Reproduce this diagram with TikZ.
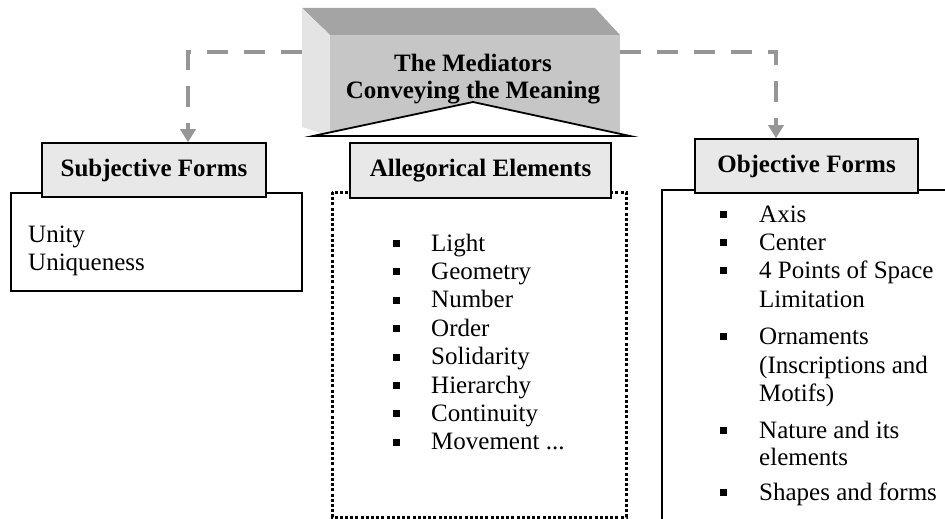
\documentclass[tikz,border=0pt]{standalone}
\usepackage{fontspec}
\setmainfont{Liberation Serif}
\usetikzlibrary{arrows.meta}
\definecolor{conngray}{HTML}{969696}
\definecolor{hdrfill}{HTML}{E8E8E8}
\definecolor{topface}{HTML}{A4A4A4}
\definecolor{frontface}{HTML}{C6C6C6}
\definecolor{sideface}{HTML}{E4E4E4}
\begin{document}
\begin{tikzpicture}[x=1pt,y=-1pt,
  every node/.style={font=\fontsize{25}{27}\selectfont},
  hdr/.style={draw=black, line width=1.6pt, fill=hdrfill, inner sep=0pt, font=\fontsize{25}{27}\selectfont\bfseries},
  conn/.style={draw=conngray, line width=4pt, dash pattern=on 21pt off 16pt, -{Triangle[width=15pt,length=13pt]}},
  solidbox/.style={draw=black, line width=1.8pt},
  bul/.style={fill=black, minimum size=7pt, inner sep=0pt},
  item/.style={anchor=base west, inner sep=0pt}]
\useasboundingbox (0,0) rectangle (945,519);
\fill[white] (0,0) rectangle (945,519);

% 3D block
\node[minimum width=318pt, minimum height=127pt, inner sep=0pt] (med) at (461,71.5) {};
\fill[topface] (302,8) -- (595,8) -- (620,35) -- (330,35) -- cycle;
\fill[sideface] (302,8) -- (330,35) -- (330,136) -- (302,127) -- cycle;
\fill[frontface] (330,35) rectangle (620,136);
\node[align=center, font=\fontsize{25}{27}\selectfont\bfseries] (title) at (473,79) {The Mediators\\Conveying the Meaning};
\draw[fill=white, line width=1.8pt, line join=miter] (313,136) -- (473,102) -- (630,136) -- cycle;

% lower boxes
\draw[solidbox] (11,193) rectangle (302,291);
\draw[line width=3pt, dash pattern=on 3pt off 2.2pt] (332,192) rectangle (626,517);
\draw[solidbox] (946,190) -- (662,190) -- (662,520);

% header boxes
\node[hdr, minimum width=224pt, minimum height=54pt] (sub) at (154,170) {Subjective Forms};
\node[hdr, minimum width=261pt, minimum height=55pt] (alle) at (480.5,170.5) {Allegorical Elements};
\node[hdr, minimum width=223pt, minimum height=54pt] (obj) at (806.5,166) {Objective Forms};

% connectors
\draw[conn] ([yshift=19.5pt]med.west) -| ([xshift=34pt]sub.north);
\draw[conn] ([yshift=19.5pt]med.east) -| ([xshift=-30.5pt]obj.north);

% subjective list
\node[item] (s1) at (28,242) {Unity};
\node[item] (s2) at (28,270) {Uniqueness};

% allegorical list
\node[bul] (ab1) at (396,243.5) {};
\node[item] (at1) at (431,251) {Light};
\node[bul] (ab2) at (396,271.9) {};
\node[item] (at2) at (431,279.4) {Geometry};
\node[bul] (ab3) at (396,300.3) {};
\node[item] (at3) at (431,307.8) {Number};
\node[bul] (ab4) at (396,328.7) {};
\node[item] (at4) at (431,336.2) {Order};
\node[bul] (ab5) at (396,357.1) {};
\node[item] (at5) at (431,364.6) {Solidarity};
\node[bul] (ab6) at (396,385.5) {};
\node[item] (at6) at (431,393) {Hierarchy};
\node[bul] (ab7) at (396,413.9) {};
\node[item] (at7) at (431,421.4) {Continuity};
\node[bul] (ab8) at (396,442.3) {};
\node[item] (at8) at (431,449.8) {Movement ...};

% objective list
\node[bul] (ob1) at (723,214.5) {};
\node[item] (ot1) at (759,222) {Axis};
\node[bul] (ob2) at (723,242.5) {};
\node[item] (ot2) at (759,250) {Center};
\node[bul] (ob3) at (723,270.5) {};
\node[item] (ot3) at (759,278) {4 Points of Space};
\node[item] (ot3b) at (759,307) {Limitation};
\node[bul] (ob4) at (723,336.5) {};
\node[item] (ot4) at (759,344) {Ornaments};
\node[item] (ot4b) at (759,373) {(Inscriptions and};
\node[item] (ot4c) at (759,401) {Motifs)};
\node[bul] (ob5) at (723,430.5) {};
\node[item] (ot5) at (759,438) {Nature and its};
\node[item] (ot5b) at (759,465) {elements};
\node[bul] (ob6) at (723,492.5) {};
\node[item] (ot6) at (759,500) {Shapes and forms};
\end{tikzpicture}
\end{document}
